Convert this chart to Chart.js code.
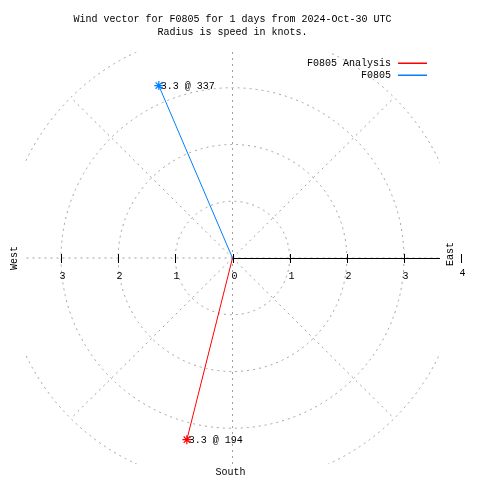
<!DOCTYPE html>
<html>
<head>
<meta charset="utf-8">
<title>Wind vector F0805</title>
<script src="https://cdn.jsdelivr.net/npm/chart.js@4/dist/chart.umd.min.js"></script>
<style>
  body { margin: 0; background: #fff; }
</style>
</head>
<body>
<canvas id="windChart" width="480" height="480"></canvas>
<script>
// series: speed in knots, direction in degrees (compass, clockwise from north)
const seriesNames = ["F0805 Analysis", "F0805"];
const seriesColors = ["#ff0000", "#0080ff"];
const windSpeeds = [3.3, 3.3];
const windDirections = [194, 337];

// polar grid
const ringValues = [1, 2, 3, 4];
const spokeAngles = [0, 45, 90, 135, 180, 225, 270, 315];
const tickValues = [-3, -2, -1, 0, 1, 2, 3, 4];
const tickLabels = ["3", "2", "1", "0", "1", "2", "3", "4"];
const titleLines = [
  "Wind vector for F0805 for 1 days from 2024-Oct-30 UTC",
  "Radius is speed in knots.",
];
const plotRange = 3.63;

const monoFont = "'Liberation Mono', 'DejaVu Sans Mono', monospace";

function toXY(speed, dir) {
  const rad = (dir * Math.PI) / 180;
  return { x: speed * Math.sin(rad), y: speed * Math.cos(rad) };
}

const datasets = seriesNames.map((name, i) => ({
  label: name,
  data: [{ x: 0, y: 0 }, toXY(windSpeeds[i], windDirections[i])],
  showLine: true,
  borderColor: seriesColors[i],
  backgroundColor: seriesColors[i],
  borderWidth: 1,
  pointStyle: "star",
  pointRadius: [0, 4.5],
  pointBorderColor: seriesColors[i],
  pointBorderWidth: 1.2,
}));

const polarGrid = {
  id: "polarGrid",
  beforeDatasetsDraw(chart) {
    const { ctx, chartArea, scales } = chart;
    const xs = scales.x, ys = scales.y;
    const cx = xs.getPixelForValue(0), cy = ys.getPixelForValue(0);

    ctx.save();
    ctx.beginPath();
    ctx.rect(chartArea.left, chartArea.top, chartArea.right - chartArea.left, chartArea.bottom - chartArea.top);
    ctx.clip();

    ctx.strokeStyle = "#a0a0a0";
    ctx.lineWidth = 1;
    ctx.setLineDash([2, 4]);
    ringValues.forEach((r) => {
      const rx = xs.getPixelForValue(r) - cx;
      const ry = cy - ys.getPixelForValue(r);
      ctx.beginPath();
      ctx.ellipse(cx, cy, rx, ry, 0, 0, Math.PI * 2);
      ctx.stroke();
    });
    const rMax = ringValues[ringValues.length - 1];
    spokeAngles.forEach((a) => {
      const p = toXY(rMax, a);
      ctx.beginPath();
      ctx.moveTo(cx, cy);
      ctx.lineTo(xs.getPixelForValue(p.x), ys.getPixelForValue(p.y));
      ctx.stroke();
    });

    // east axis
    ctx.setLineDash([]);
    ctx.strokeStyle = "#000";
    ctx.beginPath();
    ctx.moveTo(cx, cy + 0.5);
    ctx.lineTo(chartArea.right, cy + 0.5);
    ctx.stroke();
    ctx.restore();

    // ticks and tick labels
    ctx.save();
    ctx.strokeStyle = "#000";
    ctx.lineWidth = 1;
    ctx.fillStyle = "#000";
    ctx.font = "10px " + monoFont;
    ctx.textAlign = "center";
    ctx.textBaseline = "middle";
    tickValues.forEach((v, i) => {
      const px = Math.round(xs.getPixelForValue(v)) + 0.5;
      ctx.beginPath();
      ctx.moveTo(px, cy - 4);
      ctx.lineTo(px, cy + 5);
      ctx.stroke();
      ctx.fillText(tickLabels[i], px + 1, v === 4 ? cy + 15 : cy + 18);
    });
    ctx.restore();
  },
};

const windText = {
  id: "windText",
  afterDatasetsDraw(chart) {
    const { ctx, scales } = chart;
    const cx = scales.x.getPixelForValue(0), cy = scales.y.getPixelForValue(0);
    ctx.save();
    ctx.setLineDash([]);
    ctx.fillStyle = "#000";
    ctx.font = "10px " + monoFont;

    // value labels at vector tips
    ctx.textAlign = "left";
    ctx.textBaseline = "middle";
    seriesNames.forEach((name, i) => {
      const pt = chart.getDatasetMeta(i).data[1];
      ctx.fillText(windSpeeds[i].toFixed(1) + " @ " + windDirections[i], pt.x + 2, pt.y + 1);
    });

    // legend
    seriesNames.forEach((name, i) => {
      const ly = 63 + i * 12;
      ctx.fillStyle = seriesColors[i];
      ctx.fillRect(398, ly - 0.5, 29, 1.5);
      ctx.fillStyle = "#000";
      ctx.textAlign = "right";
      ctx.fillText(name, 391, ly);
    });

    // compass labels
    ctx.fillStyle = "#000";
    ctx.textAlign = "center";
    ctx.fillText("South", cx - 2, 472);
    ctx.save();
    ctx.translate(14, cy);
    ctx.rotate(-Math.PI / 2);
    ctx.fillText("West", 0, 0);
    ctx.restore();
    ctx.save();
    ctx.translate(450, cy - 4);
    ctx.rotate(-Math.PI / 2);
    ctx.fillText("East", 0, 0);
    ctx.restore();
    ctx.restore();
  },
};

new Chart(document.getElementById("windChart"), {
  type: "scatter",
  data: { datasets },
  options: {
    responsive: false,
    animation: false,
    layout: { padding: { left: 25, right: 40, top: 0, bottom: 16 } },
    scales: {
      x: { type: "linear", display: false, min: -plotRange, max: plotRange },
      y: { type: "linear", display: false, min: -plotRange, max: plotRange },
    },
    plugins: {
      legend: { display: false },
      tooltip: { enabled: false },
      title: {
        display: true,
        text: titleLines,
        color: "#000",
        font: { family: monoFont, size: 10, weight: "normal", lineHeight: 1.3 },
        padding: { top: 13, bottom: 13 },
      },
    },
  },
  plugins: [polarGrid, windText],
});
</script>
</body>
</html>
